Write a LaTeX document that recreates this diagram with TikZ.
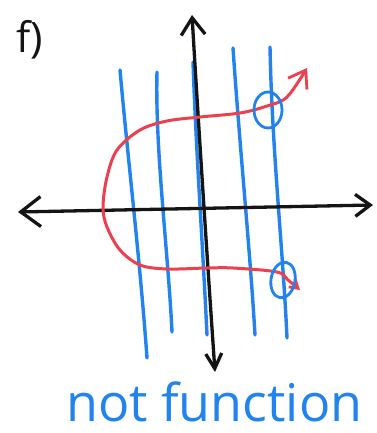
\documentclass[tikz,border=0pt]{standalone}
\usepackage{fontspec}
\newfontfamily\hand{Open Sans}
\usetikzlibrary{arrows.meta}
\definecolor{penblue}{RGB}{33,131,235}
\definecolor{penred}{RGB}{236,64,80}
\definecolor{penblack}{RGB}{20,20,20}
\tikzset{
  ax/.style={penblack, line width=3.3pt, line cap=round, line join=round},
  vline/.style={penblue, line width=3.4pt, line cap=round},
  ring/.style={penblue, line width=2.8pt},
  curve/.style={penred, line width=3pt, line cap=round, line join=round},
}
\begin{document}
\begin{tikzpicture}[x=1pt,y=-1pt]
\useasboundingbox (0,0) rectangle (376,433);
% blue vertical lines
\draw[vline] (120,70) .. controls (128,160) and (140,260) .. (147,358);
\draw[vline] (157,72) .. controls (155,150) and (168,250) .. (172,332);
\draw[vline] (193,62) .. controls (196,150) and (203,250) .. (207,335);
\draw[vline] (233,48) .. controls (240,150) and (250,250) .. (255,335);
\draw[vline] (270,47) .. controls (272,150) and (283,250) .. (287,338);
% axes
\coordinate (L) at (18,212);
\coordinate (R) at (373,205);
\coordinate (T) at (192,15);
\coordinate (B) at (215,372);
\draw[ax, {Straight Barb[length=20pt,width=30pt,line width=3.3pt]}-{Straight Barb[length=15pt,width=22pt,line width=3.3pt]}] (L) -- (R);
\draw[ax, {Straight Barb[length=17pt,width=24pt,line width=3.3pt]}-{Straight Barb[length=15pt,width=16pt,line width=3.3pt]}] (T) .. controls (200,150) and (210,300) .. (B);
% red curve
\draw[curve, {Straight Barb[length=8pt,width=10pt,line width=2.8pt]}-{Straight Barb[length=16pt,width=22pt,line width=2.8pt]}]
  plot[smooth, tension=0.55] coordinates {(300,290) (288,280) (277,272) (233,268) (207,268) (167,269) (140,265) (120,250) (107,227) (103,207) (107,177) (117,150) (140,130) (167,121) (200,117) (240,113) (267,106) (287,97) (307,68)};
% circles
\draw[ring] (268,110) ellipse [x radius=14, y radius=18];
\draw[ring, rotate around={-10:(283,280)}] (283,280) ellipse [x radius=12, y radius=18];
% labels
\node[penblack, font=\hand\fontsize{42}{46}\selectfont, anchor=center] (f) at (30,40) {f)};
\node[penblue, font=\hand\fontsize{52}{56}\selectfont, anchor=base west, inner sep=0pt] (nf) at (66,421) {not function};
\end{tikzpicture}
\end{document}
